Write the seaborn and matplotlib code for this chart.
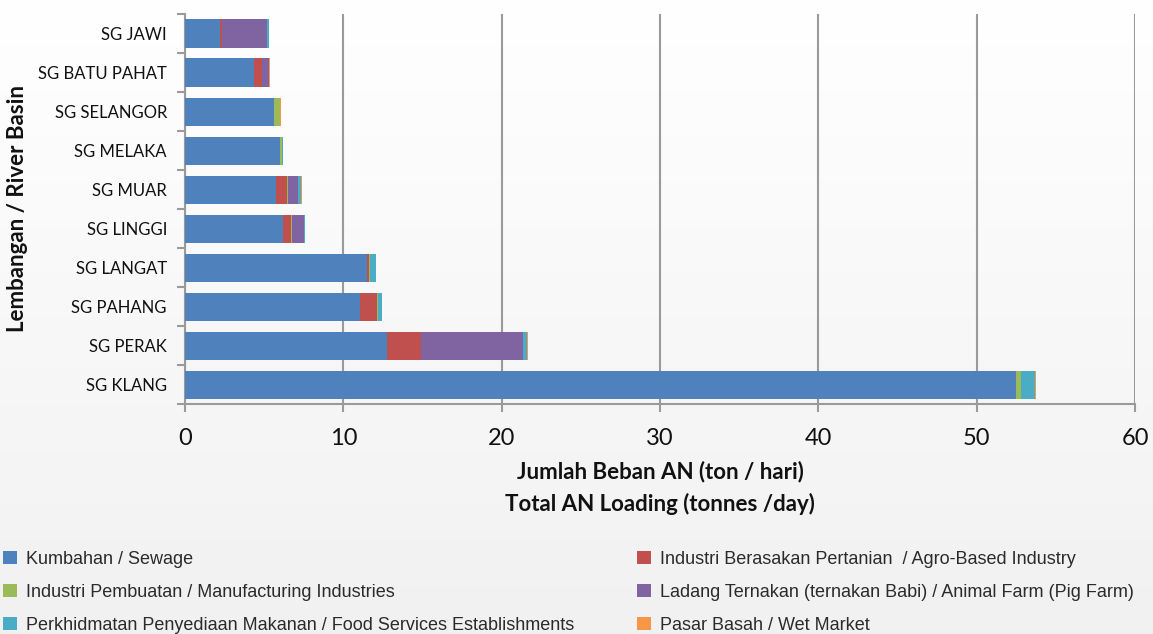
import numpy as np
import pandas as pd
import matplotlib
matplotlib.use("Agg")
import matplotlib.pyplot as plt
from matplotlib.patches import Patch
import seaborn as sns

# River basins, top to bottom
basins = ["SG JAWI", "SG BATU PAHAT", "SG SELANGOR", "SG MELAKA", "SG MUAR",
          "SG LINGGI", "SG LANGAT", "SG PAHANG", "SG PERAK", "SG KLANG"]

# AN loading by source (tonnes/day)
sewage        = [2.20, 4.36, 5.64, 6.00, 5.73, 6.19, 11.50, 11.05, 12.78, 52.50]
agro_based    = [0.13, 0.50, 0.00, 0.00, 0.73, 0.50, 0.15, 1.07, 2.10, 0.00]
manufacturing = [0.00, 0.00, 0.36, 0.12, 0.02, 0.04, 0.02, 0.10, 0.03, 0.30]
animal_farm   = [2.85, 0.45, 0.00, 0.00, 0.68, 0.80, 0.00, 0.00, 6.42, 0.00]
food_services = [0.10, 0.03, 0.02, 0.08, 0.15, 0.04, 0.38, 0.20, 0.25, 0.90]
wet_market    = [0.02, 0.03, 0.05, 0.02, 0.06, 0.02, 0.02, 0.03, 0.06, 0.03]

series_labels = [
    "Kumbahan / Sewage",
    "Industri Berasakan Pertanian  / Agro-Based Industry",
    "Industri Pembuatan / Manufacturing Industries",
    "Ladang Ternakan (ternakan Babi) / Animal Farm (Pig Farm)",
    "Perkhidmatan Penyediaan Makanan / Food Services Establishments",
    "Pasar Basah / Wet Market",
]
series_values = [sewage, agro_based, manufacturing, animal_farm, food_services, wet_market]
colors = ["#4F81BD", "#C0504D", "#9BBB59", "#8064A2", "#4BACC6", "#F79646"]

x_ticks = [0, 10, 20, 30, 40, 50, 60]

sns.set_theme(style="white")
plt.rcParams["font.family"] = ["Lato", "DejaVu Sans"]

fig = plt.figure(figsize=(11.53, 6.34), dpi=100)

# soft vertical background gradient
bg = fig.add_axes([0, 0, 1, 1], zorder=-10)
grad = np.linspace(1.0, 0.0, 256).reshape(-1, 1)
top_c = np.array([1.0, 1.0, 1.0])
bot_c = np.array([0.945, 0.945, 0.945])
img = grad[..., None] * top_c + (1 - grad[..., None]) * bot_c
bg.imshow(img, aspect="auto", extent=[0, 1, 0, 1], origin="upper")
bg.axis("off")

ax = fig.add_axes([0.1604, 0.362, 0.824, 0.616])
ax.patch.set_alpha(0)

# stacked bars: draw cumulative totals from the outermost segment inward
cum = np.cumsum(np.array(series_values), axis=0)
df = pd.DataFrame({"basin": basins})
for i in range(len(series_values) - 1, -1, -1):
    df["v"] = cum[i]
    sns.barplot(data=df, x="v", y="basin", orient="h", color=colors[i],
                saturation=1, width=0.72, ax=ax, zorder=3,
                linewidth=0)

ax.set_xlim(0, 60)
ax.set_ylim(9.5, -0.5)
ax.set_xticks(x_ticks)
ax.set_xticklabels([str(t) for t in x_ticks], fontsize=17, color="#111111")
ax.tick_params(axis="x", which="major", length=6, width=1.5, color="#9A9A9A",
               direction="out", pad=11, bottom=True)
ax.xaxis.grid(True, color="#9A9A9A", linewidth=1.5, zorder=0)
ax.set_axisbelow(True)

ax.set_yticks(range(len(basins)))
ax.set_yticklabels(basins, fontsize=12, color="#111111")
ax.tick_params(axis="y", which="major", length=0, pad=13)
ax.set_yticks(np.arange(-0.5, len(basins)), minor=True)
ax.tick_params(axis="y", which="minor", length=6, width=1.5, color="#9A9A9A",
               direction="out", left=True)

for side in ["top", "right"]:
    ax.spines[side].set_visible(False)
for side in ["left", "bottom"]:
    ax.spines[side].set_color("#9A9A9A")
    ax.spines[side].set_linewidth(1.5)

ax.set_xlabel("Jumlah Beban AN (ton / hari)\nTotal AN Loading (tonnes /day)",
              fontsize=16, fontweight="bold", color="#111111", labelpad=8,
              linespacing=1.6)
ax.set_ylabel("")
fig.text(18 / 1153, 1 - 209 / 634, "Lembangan / River Basin", rotation=90,
         ha="center", va="center", fontsize=16, fontweight="bold",
         color="#111111")

# legend: two columns, filled row by row
handles = [Patch(facecolor=c, edgecolor="none") for c in colors]
leg_kw = dict(loc="upper left", frameon=False,
              prop={"family": "Liberation Sans", "size": 13},
              handlelength=0.75, handleheight=0.75, handletextpad=0.55,
              labelspacing=0.88, borderaxespad=0, borderpad=0)
col_left = [0, 2, 4]
col_right = [1, 3, 5]
leg1 = fig.legend([handles[i] for i in col_left], [series_labels[i] for i in col_left],
                  bbox_to_anchor=(3 / 1153, 1 - 551 / 634), **leg_kw)
leg2 = fig.legend([handles[i] for i in col_right], [series_labels[i] for i in col_right],
                  bbox_to_anchor=(637 / 1153, 1 - 551 / 634), **leg_kw)
for leg in (leg1, leg2):
    for t in leg.get_texts():
        t.set_color("#2B2B2B")

fig.savefig("out.png", dpi=100)
